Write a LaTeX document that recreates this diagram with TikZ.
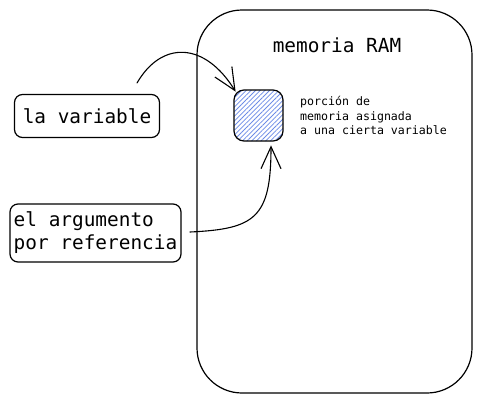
\documentclass[tikz,border=0pt]{standalone}
\usepackage{fontspec}
\setmonofont{DejaVu Sans Mono}
\usetikzlibrary{arrows.meta,patterns.meta}
\definecolor{trama}{HTML}{6C8BE6}

\begin{document}
\begin{tikzpicture}[x=1pt,y=-1pt]
  \tikzstyle{every node}=[font=\ttfamily\fontsize{19.4}{23}\selectfont, inner sep=0pt]
  \tikzstyle{caja}=[draw, line width=1.2pt, rounded corners=8pt]
  \tikzstyle{flecha}=[line width=1.1pt, line cap=round, -{Straight Barb[length=22pt,width=20pt,line width=1.1pt]}]
  \useasboundingbox (0,0) rectangle (481,402);

  \path (334.5,201.5) node[caja, rounded corners=45pt, minimum width=275pt, minimum height=383pt] (ram) {};
  \path (337,45) node (ramtxt) {memoria RAM};

  \path (258.5,115.5) node[caja, rounded corners=10pt, minimum width=49pt, minimum height=51pt,
    pattern={Lines[angle=45,distance=3.3pt,line width=.8pt]}, pattern color=trama] (celda) {};
  \path (300,115.5) node[anchor=west, align=left, font=\ttfamily\fontsize{11.6}{14.5}\selectfont] (desc)
    {porción de\\memoria asignada\\a una cierta variable};

  \path (87,116) node[caja, minimum width=145pt, minimum height=43pt] (var) {la variable};
  \path (95.5,233) node[caja, minimum width=171pt, minimum height=58pt, align=left] (arg)
    {el argumento\\por referencia};

  \coordinate (ini1) at (137,83);
  \coordinate (ini2) at (190,232);

  \draw[flecha]
    (ini1) .. controls (162,40) and (205,42) .. ([shift={(2,2)}]celda.north west);
  \draw[flecha]
    (ini2) .. controls (255,229) and (271,218) .. ([shift={(12.5,4)}]celda.south);
\end{tikzpicture}
\end{document}
